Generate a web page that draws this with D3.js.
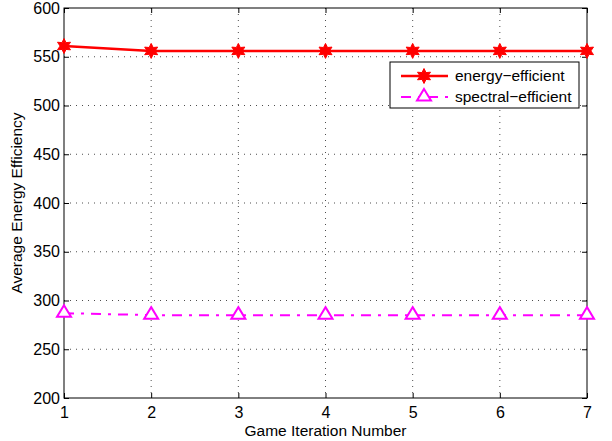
<!DOCTYPE html>
<html>
<head>
<meta charset="utf-8">
<script src="https://cdn.jsdelivr.net/npm/d3@7"></script>
<style>
  body { margin: 0; background: #fff; }
  svg { font-family: "Liberation Sans", Arial, sans-serif; }
  .grid line { stroke: #000; stroke-dasharray: 1,5; stroke-width: 0.7; }
</style>
</head>
<body>
<svg id="chart" width="612" height="441"></svg>
<script>
// iteration numbers on x
const iterations = [1, 2, 3, 4, 5, 6, 7];
const energyEfficient = [561, 556, 556, 556, 556, 556, 556];
const spectralEfficient = [287, 285, 285, 285, 285, 285, 285];
const yTicks = [200, 250, 300, 350, 400, 450, 500, 550, 600];
const seriesNames = ['energy\u2212efficient', 'spectral\u2212efficient'];

var svg = d3.select('#chart');
var margin = {top: 8, right: 25, bottom: 43, left: 64},
    width = +svg.attr('width') - margin.left - margin.right,
    height = +svg.attr('height') - margin.top - margin.bottom;

var g = svg.append('g')
    .attr('transform', 'translate(' + margin.left + ',' + margin.top + ')');

var x = d3.scaleLinear().domain([1, 7]).range([0, width]);
var y = d3.scaleLinear().domain([200, 600]).range([height, 0]);

// dotted grid
g.append('g').attr('class', 'grid')
    .selectAll('line').data(iterations.slice(1, -1))
  .enter().append('line')
    .attr('x1', d => x(d)).attr('x2', d => x(d))
    .attr('y1', 0).attr('y2', height);
g.append('g').attr('class', 'grid')
    .selectAll('line').data(yTicks.slice(1, -1))
  .enter().append('line')
    .attr('y1', d => y(d)).attr('y2', d => y(d))
    .attr('x1', 0).attr('x2', width);

// axes with inward ticks on all four sides
function styleAxis(sel) {
    sel.select('.domain').remove();
    sel.selectAll('.tick line').attr('stroke', '#000');
    sel.selectAll('.tick text').attr('font-size', 16).attr('fill', '#000')
        .attr('font-family', '"Liberation Sans", Arial, sans-serif');
}
g.append('g').attr('transform', 'translate(0,' + height + ')')
    .call(d3.axisBottom(x).tickValues(iterations).tickFormat(d3.format('d')).tickSize(-5).tickPadding(9))
    .call(styleAxis);
g.append('g')
    .call(d3.axisTop(x).tickValues(iterations).tickSize(-5).tickFormat(''))
    .call(styleAxis);
g.append('g')
    .call(d3.axisLeft(y).tickValues(yTicks).tickSize(-5).tickPadding(4))
    .call(styleAxis);
g.append('g').attr('transform', 'translate(' + width + ',0)')
    .call(d3.axisRight(y).tickValues(yTicks).tickSize(-5).tickFormat(''))
    .call(styleAxis);

g.append('rect')
    .attr('width', width).attr('height', height)
    .attr('fill', 'none').attr('stroke', '#000').attr('stroke-width', 1);

// lines
var line = d3.line()
    .x(function(d, i) { return x(iterations[i]); })
    .y(function(d) { return y(d); });

g.append('path').datum(energyEfficient)
    .attr('d', line).attr('fill', 'none')
    .attr('stroke', '#ff0000').attr('stroke-width', 2.5);
g.append('path').datum(spectralEfficient)
    .attr('d', line).attr('fill', 'none')
    .attr('stroke', '#ff00ff').attr('stroke-width', 2)
    .attr('stroke-dasharray', '10,7,3,7');

// six point star and triangle markers
var hexStar = 'M0,-7.5L2,-3.4L6.5,-3.8L3.9,0L6.5,3.8L2,3.4L0,7.5L-2,3.4L-6.5,3.8L-3.9,0L-6.5,-3.8L-2,-3.4Z';
var tri = 'M0,-8L7,3.5L-7,3.5Z';

g.selectAll('.emark').data(energyEfficient)
  .enter().append('path')
    .attr('class', 'emark')
    .attr('transform', function(d, i) { return 'translate(' + x(iterations[i]) + ',' + y(d) + ')'; })
    .attr('d', hexStar)
    .attr('fill', '#ff0000').attr('stroke', '#ff0000').attr('stroke-width', 1);

g.selectAll('.smark').data(spectralEfficient)
  .enter().append('path')
    .attr('class', 'smark')
    .attr('transform', function(d, i) { return 'translate(' + x(iterations[i]) + ',' + y(d) + ')'; })
    .attr('d', tri)
    .attr('fill', '#fff').attr('stroke', '#ff00ff').attr('stroke-width', 2);

// legend
var legend = svg.append('g').attr('transform', 'translate(390,62)');
legend.append('rect')
    .attr('width', 189).attr('height', 46)
    .attr('fill', '#fff').attr('stroke', '#000').attr('stroke-width', 1);
var rows = legend.selectAll('.row').data(seriesNames)
  .enter().append('g')
    .attr('transform', function(d, i) { return 'translate(0,' + (14 + i * 21) + ')'; });
rows.append('line')
    .attr('x1', 11).attr('x2', 58).attr('y1', 0).attr('y2', 0)
    .attr('stroke', (d, i) => i ? '#ff00ff' : '#ff0000')
    .attr('stroke-width', (d, i) => i ? 2 : 2.5)
    .attr('stroke-dasharray', (d, i) => i ? '10,7,3,7' : null);
rows.append('path')
    .attr('transform', 'translate(34,0)')
    .attr('d', (d, i) => i ? tri : hexStar)
    .attr('fill', (d, i) => i ? '#fff' : '#ff0000')
    .attr('stroke', (d, i) => i ? '#ff00ff' : '#ff0000')
    .attr('stroke-width', (d, i) => i ? 2 : 1);
rows.append('text')
    .attr('x', 65).attr('dy', '0.35em')
    .attr('font-size', 15.5).text(d => d);

// axis labels
svg.append('text')
    .attr('x', margin.left + width / 2).attr('y', 436)
    .attr('text-anchor', 'middle').attr('font-size', 15.5)
    .text('Game Iteration Number');
svg.append('text')
    .attr('transform', 'translate(22,' + (margin.top + height / 2) + ') rotate(-90)')
    .attr('text-anchor', 'middle').attr('font-size', 15.5)
    .text('Average Energy Efficiency');
</script>
</body>
</html>
